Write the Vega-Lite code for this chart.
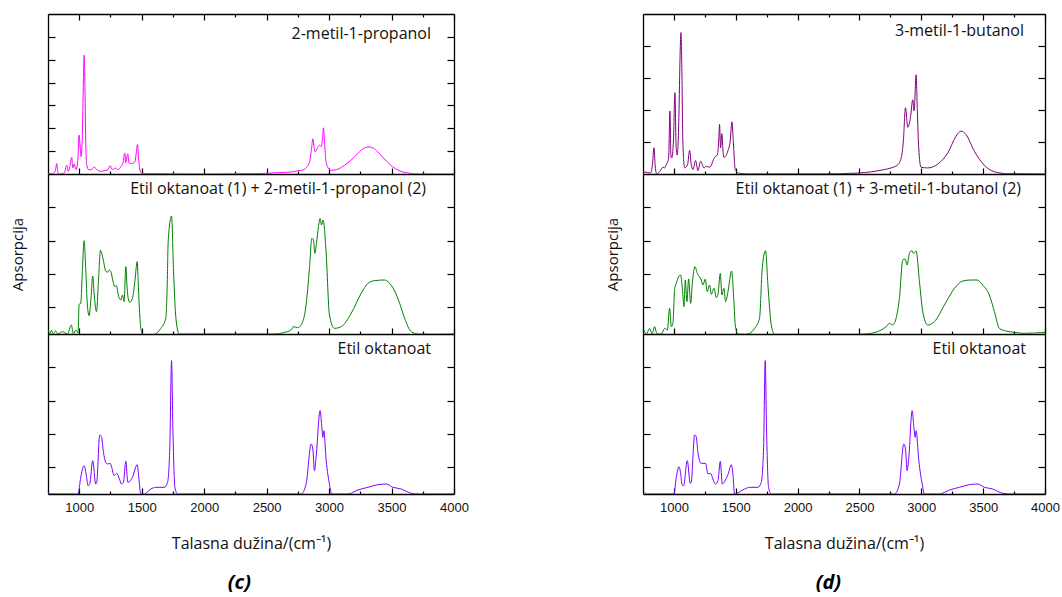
{
  "$schema": "https://vega.github.io/schema/vega-lite/v6.json",
  "padding": {"left": 10, "top": 13, "right": 5, "bottom": 5},
  "background": "white",
  "config": {
    "view": {"stroke": null},
    "font": "Open Sans",
    "axis": {"grid": false, "domainColor": "#000", "domainWidth": 1.3, "tickColor": "#000", "tickWidth": 1.2, "labelFont": "Liberation Sans", "labelFontSize": 13, "labelColor": "#111", "titleFont": "Open Sans", "titleFontSize": 15, "titleFontWeight": "normal", "titleColor": "#111"},
    "title": {"font": "Open Sans", "fontSize": 16, "fontWeight": "normal", "color": "#111"}
  },
  "datasets": {
    "tl": [
      {"wn":750,"a":0.003},{"wn":790,"a":0.003},{"wn":810,"a":0.038},{"wn":820,"a":0.091},{"wn":828,"a":0.023},{"wn":840,"a":0},{"wn":880,"a":0.009},{"wn":900,"a":0.076},{"wn":912,"a":0.023},{"wn":925,"a":0.067},{"wn":940,"a":0.146},{"wn":948,"a":0.053},{"wn":960,"a":0.088},{"wn":975,"a":0.038},{"wn":990,"a":0.14},{"wn":999,"a":0.34},{"wn":1008,"a":0.23},{"wn":1015,"a":0.152},{"wn":1025,"a":0.346},{"wn":1033,"a":0.785},{"wn":1039,"a":1.04},{"wn":1045,"a":0.815},{"wn":1052,"a":0.287},{"wn":1060,"a":0.082},{"wn":1075,"a":0.038},{"wn":1100,"a":0.038},{"wn":1119,"a":0.062},{"wn":1140,"a":0.038},{"wn":1172,"a":0.023},{"wn":1200,"a":0.029},{"wn":1230,"a":0.038},{"wn":1247,"a":0.073},{"wn":1266,"a":0.038},{"wn":1293,"a":0.053},{"wn":1310,"a":0.038},{"wn":1335,"a":0.067},{"wn":1350,"a":0.097},{"wn":1365,"a":0.182},{"wn":1372,"a":0.097},{"wn":1380,"a":0.14},{"wn":1389,"a":0.176},{"wn":1398,"a":0.097},{"wn":1420,"a":0.091},{"wn":1445,"a":0.105},{"wn":1460,"a":0.214},{"wn":1466,"a":0.258},{"wn":1475,"a":0.14},{"wn":1485,"a":0.038},{"wn":1500,"a":0.009},{"wn":1550,"a":0.003},{"wn":2000,"a":0},{"wn":2400,"a":0.003},{"wn":2600,"a":0.012},{"wn":2700,"a":0.018},{"wn":2750,"a":0.029},{"wn":2790,"a":0.035},{"wn":2820,"a":0.059},{"wn":2845,"a":0.111},{"wn":2860,"a":0.229},{"wn":2870,"a":0.308},{"wn":2880,"a":0.229},{"wn":2889,"a":0.193},{"wn":2905,"a":0.223},{"wn":2923,"a":0.252},{"wn":2937,"a":0.24},{"wn":2948,"a":0.316},{"wn":2955,"a":0.404},{"wn":2963,"a":0.287},{"wn":2975,"a":0.111},{"wn":2990,"a":0.059},{"wn":3017,"a":0.032},{"wn":3060,"a":0.038},{"wn":3100,"a":0.059},{"wn":3150,"a":0.097},{"wn":3200,"a":0.146},{"wn":3257,"a":0.208},{"wn":3300,"a":0.234},{"wn":3324,"a":0.237},{"wn":3350,"a":0.229},{"wn":3391,"a":0.193},{"wn":3430,"a":0.146},{"wn":3471,"a":0.1},{"wn":3510,"a":0.062},{"wn":3551,"a":0.035},{"wn":3600,"a":0.015},{"wn":3650,"a":0.006},{"wn":3738,"a":0},{"wn":4000,"a":0}
    ],
    "tr": [
      {"wn":750,"a":0.006},{"wn":763,"a":0.006},{"wn":810,"a":0.003},{"wn":825,"a":0.024},{"wn":839,"a":0.082},{"wn":848,"a":0.029},{"wn":860,"a":0},{"wn":885,"a":0.008},{"wn":912,"a":0.021},{"wn":925,"a":0.019},{"wn":938,"a":0.029},{"wn":957,"a":0.05},{"wn":968,"a":0.197},{"wn":975,"a":0.061},{"wn":982,"a":0.05},{"wn":996,"a":0.103},{"wn":1008,"a":0.254},{"wn":1018,"a":0.082},{"wn":1027,"a":0.059},{"wn":1040,"a":0.176},{"wn":1050,"a":0.374},{"wn":1057,"a":0.442},{"wn":1064,"a":0.333},{"wn":1072,"a":0.103},{"wn":1087,"a":0.019},{"wn":1110,"a":0.029},{"wn":1127,"a":0.074},{"wn":1140,"a":0.029},{"wn":1154,"a":0.014},{"wn":1175,"a":0.042},{"wn":1194,"a":0.01},{"wn":1216,"a":0.04},{"wn":1243,"a":0.019},{"wn":1262,"a":0.024},{"wn":1289,"a":0.021},{"wn":1329,"a":0.052},{"wn":1350,"a":0.059},{"wn":1362,"a":0.103},{"wn":1369,"a":0.155},{"wn":1377,"a":0.082},{"wn":1388,"a":0.126},{"wn":1396,"a":0.076},{"wn":1404,"a":0.052},{"wn":1437,"a":0.073},{"wn":1455,"a":0.103},{"wn":1469,"a":0.163},{"wn":1480,"a":0.103},{"wn":1496,"a":0.014},{"wn":1531,"a":0.002},{"wn":1600,"a":0},{"wn":2200,"a":0},{"wn":2487,"a":0.003},{"wn":2702,"a":0.014},{"wn":2756,"a":0.019},{"wn":2810,"a":0.029},{"wn":2837,"a":0.05},{"wn":2855,"a":0.103},{"wn":2872,"a":0.207},{"wn":2891,"a":0.146},{"wn":2912,"a":0.176},{"wn":2931,"a":0.232},{"wn":2942,"a":0.197},{"wn":2958,"a":0.31},{"wn":2968,"a":0.197},{"wn":2979,"a":0.082},{"wn":2998,"a":0.021},{"wn":3052,"a":0.019},{"wn":3133,"a":0.031},{"wn":3214,"a":0.066},{"wn":3281,"a":0.118},{"wn":3321,"a":0.134},{"wn":3362,"a":0.123},{"wn":3429,"a":0.071},{"wn":3510,"a":0.027},{"wn":3591,"a":0.007},{"wn":3699,"a":0.001},{"wn":4000,"a":0}
    ],
    "ml": [
      {"wn":750,"a":0.032},{"wn":766,"a":0.022},{"wn":777,"a":0.031},{"wn":793,"a":0.02},{"wn":811,"a":0.029},{"wn":830,"a":0.02},{"wn":865,"a":0.027},{"wn":905,"a":0.02},{"wn":937,"a":0.047},{"wn":953,"a":0.02},{"wn":972,"a":0.032},{"wn":991,"a":0.023},{"wn":999,"a":0.109},{"wn":1012,"a":0.112},{"wn":1025,"a":0.207},{"wn":1039,"a":0.3},{"wn":1052,"a":0.217},{"wn":1065,"a":0.107},{"wn":1079,"a":0.075},{"wn":1094,"a":0.127},{"wn":1108,"a":0.194},{"wn":1120,"a":0.137},{"wn":1138,"a":0.087},{"wn":1155,"a":0.187},{"wn":1170,"a":0.271},{"wn":1191,"a":0.245},{"wn":1212,"a":0.209},{"wn":1226,"a":0.205},{"wn":1240,"a":0.212},{"wn":1253,"a":0.207},{"wn":1271,"a":0.177},{"wn":1285,"a":0.162},{"wn":1298,"a":0.165},{"wn":1311,"a":0.139},{"wn":1333,"a":0.122},{"wn":1346,"a":0.137},{"wn":1359,"a":0.117},{"wn":1373,"a":0.222},{"wn":1382,"a":0.167},{"wn":1392,"a":0.127},{"wn":1405,"a":0.115},{"wn":1426,"a":0.127},{"wn":1445,"a":0.177},{"wn":1464,"a":0.237},{"wn":1472,"a":0.177},{"wn":1480,"a":0.107},{"wn":1493,"a":0.037},{"wn":1506,"a":0.019},{"wn":1520,"a":0.017},{"wn":1600,"a":0.019},{"wn":1653,"a":0.037},{"wn":1693,"a":0.067},{"wn":1705,"a":0.177},{"wn":1712,"a":0.297},{"wn":1739,"a":0.374},{"wn":1755,"a":0.207},{"wn":1774,"a":0.067},{"wn":1800,"a":0.02},{"wn":2562,"a":0.02},{"wn":2643,"a":0.025},{"wn":2696,"a":0.032},{"wn":2717,"a":0.042},{"wn":2749,"a":0.039},{"wn":2789,"a":0.057},{"wn":2816,"a":0.107},{"wn":2843,"a":0.217},{"wn":2862,"a":0.307},{"wn":2875,"a":0.302},{"wn":2886,"a":0.262},{"wn":2899,"a":0.292},{"wn":2915,"a":0.342},{"wn":2928,"a":0.367},{"wn":2939,"a":0.347},{"wn":2952,"a":0.362},{"wn":2976,"a":0.267},{"wn":3003,"a":0.077},{"wn":3043,"a":0.037},{"wn":3097,"a":0.042},{"wn":3177,"a":0.082},{"wn":3257,"a":0.142},{"wn":3311,"a":0.172},{"wn":3364,"a":0.18},{"wn":3444,"a":0.182},{"wn":3471,"a":0.177},{"wn":3525,"a":0.149},{"wn":3565,"a":0.112},{"wn":3605,"a":0.067},{"wn":3658,"a":0.027},{"wn":3712,"a":0.02},{"wn":3845,"a":0.019},{"wn":4000,"a":0.02}
    ],
    "mr": [
      {"wn":758,"a":0.032},{"wn":777,"a":0.02},{"wn":804,"a":0.037},{"wn":823,"a":0.02},{"wn":844,"a":0.042},{"wn":863,"a":0.02},{"wn":898,"a":0.02},{"wn":925,"a":0.037},{"wn":947,"a":0.032},{"wn":965,"a":0.097},{"wn":979,"a":0.042},{"wn":992,"a":0.052},{"wn":1006,"a":0.157},{"wn":1019,"a":0.172},{"wn":1038,"a":0.192},{"wn":1054,"a":0.197},{"wn":1068,"a":0.157},{"wn":1081,"a":0.102},{"wn":1092,"a":0.182},{"wn":1105,"a":0.117},{"wn":1119,"a":0.185},{"wn":1135,"a":0.112},{"wn":1150,"a":0.177},{"wn":1170,"a":0.222},{"wn":1189,"a":0.202},{"wn":1221,"a":0.182},{"wn":1235,"a":0.167},{"wn":1253,"a":0.185},{"wn":1270,"a":0.147},{"wn":1289,"a":0.167},{"wn":1302,"a":0.139},{"wn":1324,"a":0.157},{"wn":1342,"a":0.129},{"wn":1356,"a":0.139},{"wn":1375,"a":0.202},{"wn":1388,"a":0.137},{"wn":1404,"a":0.157},{"wn":1418,"a":0.117},{"wn":1437,"a":0.147},{"wn":1466,"a":0.209},{"wn":1485,"a":0.117},{"wn":1496,"a":0.047},{"wn":1517,"a":0.02},{"wn":1571,"a":0.019},{"wn":1612,"a":0.022},{"wn":1652,"a":0.037},{"wn":1692,"a":0.067},{"wn":1714,"a":0.217},{"wn":1741,"a":0.27},{"wn":1760,"a":0.167},{"wn":1787,"a":0.047},{"wn":1814,"a":0.019},{"wn":2500,"a":0.019},{"wn":2594,"a":0.022},{"wn":2675,"a":0.032},{"wn":2716,"a":0.042},{"wn":2742,"a":0.052},{"wn":2769,"a":0.047},{"wn":2796,"a":0.067},{"wn":2823,"a":0.127},{"wn":2850,"a":0.242},{"wn":2869,"a":0.245},{"wn":2885,"a":0.227},{"wn":2904,"a":0.262},{"wn":2923,"a":0.27},{"wn":2936,"a":0.262},{"wn":2958,"a":0.269},{"wn":2985,"a":0.177},{"wn":3012,"a":0.087},{"wn":3052,"a":0.047},{"wn":3106,"a":0.057},{"wn":3187,"a":0.107},{"wn":3268,"a":0.157},{"wn":3335,"a":0.179},{"wn":3402,"a":0.182},{"wn":3451,"a":0.182},{"wn":3496,"a":0.167},{"wn":3550,"a":0.137},{"wn":3591,"a":0.087},{"wn":3631,"a":0.037},{"wn":3684,"a":0.029},{"wn":3752,"a":0.025},{"wn":3833,"a":0.022},{"wn":4000,"a":0.025}
    ],
    "bl": [
      {"wn":750,"a":0.025},{"wn":771,"a":0.02},{"wn":991,"a":0.02},{"wn":1012,"a":0.07},{"wn":1039,"a":0.105},{"wn":1055,"a":0.08},{"wn":1071,"a":0.045},{"wn":1084,"a":0.05},{"wn":1108,"a":0.12},{"wn":1132,"a":0.05},{"wn":1140,"a":0.055},{"wn":1164,"a":0.197},{"wn":1178,"a":0.192},{"wn":1194,"a":0.145},{"wn":1212,"a":0.115},{"wn":1226,"a":0.11},{"wn":1247,"a":0.112},{"wn":1260,"a":0.1},{"wn":1279,"a":0.075},{"wn":1300,"a":0.082},{"wn":1322,"a":0.065},{"wn":1338,"a":0.05},{"wn":1354,"a":0.055},{"wn":1373,"a":0.118},{"wn":1389,"a":0.055},{"wn":1405,"a":0.058},{"wn":1426,"a":0.07},{"wn":1464,"a":0.108},{"wn":1474,"a":0.08},{"wn":1493,"a":0.02},{"wn":1520,"a":0.02},{"wn":1573,"a":0.035},{"wn":1613,"a":0.04},{"wn":1680,"a":0.04},{"wn":1707,"a":0.055},{"wn":1725,"a":0.16},{"wn":1739,"a":0.42},{"wn":1750,"a":0.21},{"wn":1766,"a":0.04},{"wn":1787,"a":0.02},{"wn":2776,"a":0.02},{"wn":2816,"a":0.05},{"wn":2857,"a":0.17},{"wn":2870,"a":0.155},{"wn":2883,"a":0.09},{"wn":2896,"a":0.13},{"wn":2928,"a":0.27},{"wn":2941,"a":0.225},{"wn":2950,"a":0.19},{"wn":2958,"a":0.21},{"wn":2977,"a":0.12},{"wn":3003,"a":0.05},{"wn":3022,"a":0.02},{"wn":3150,"a":0.02},{"wn":3230,"a":0.032},{"wn":3311,"a":0.04},{"wn":3391,"a":0.048},{"wn":3458,"a":0.05},{"wn":3511,"a":0.04},{"wn":3578,"a":0.035},{"wn":3618,"a":0.028},{"wn":3658,"a":0.022},{"wn":3712,"a":0.02},{"wn":4000,"a":0.02}
    ],
    "br": [
      {"wn":763,"a":0.025},{"wn":785,"a":0.02},{"wn":1000,"a":0.02},{"wn":1019,"a":0.07},{"wn":1041,"a":0.102},{"wn":1055,"a":0.08},{"wn":1065,"a":0.048},{"wn":1078,"a":0.045},{"wn":1108,"a":0.12},{"wn":1132,"a":0.052},{"wn":1140,"a":0.055},{"wn":1167,"a":0.197},{"wn":1180,"a":0.192},{"wn":1194,"a":0.145},{"wn":1221,"a":0.112},{"wn":1256,"a":0.112},{"wn":1275,"a":0.08},{"wn":1297,"a":0.082},{"wn":1315,"a":0.065},{"wn":1334,"a":0.05},{"wn":1356,"a":0.06},{"wn":1375,"a":0.118},{"wn":1391,"a":0.05},{"wn":1410,"a":0.058},{"wn":1437,"a":0.078},{"wn":1464,"a":0.108},{"wn":1477,"a":0.08},{"wn":1490,"a":0.02},{"wn":1571,"a":0.035},{"wn":1612,"a":0.04},{"wn":1679,"a":0.04},{"wn":1706,"a":0.055},{"wn":1725,"a":0.16},{"wn":1738,"a":0.42},{"wn":1749,"a":0.21},{"wn":1765,"a":0.04},{"wn":1787,"a":0.02},{"wn":2783,"a":0.02},{"wn":2823,"a":0.05},{"wn":2858,"a":0.17},{"wn":2872,"a":0.155},{"wn":2885,"a":0.09},{"wn":2899,"a":0.13},{"wn":2926,"a":0.27},{"wn":2939,"a":0.225},{"wn":2950,"a":0.19},{"wn":2958,"a":0.21},{"wn":2980,"a":0.12},{"wn":3007,"a":0.05},{"wn":3025,"a":0.02},{"wn":3146,"a":0.02},{"wn":3227,"a":0.032},{"wn":3308,"a":0.04},{"wn":3389,"a":0.048},{"wn":3456,"a":0.05},{"wn":3510,"a":0.04},{"wn":3577,"a":0.035},{"wn":3618,"a":0.028},{"wn":3658,"a":0.022},{"wn":3725,"a":0.02},{"wn":4000,"a":0.02}
    ]
  },
  "hconcat": [
    {
      "title": {"text": "(c)", "orient": "bottom", "anchor": "middle", "frame": "bounds", "dx": 0, "fontSize": 20, "fontStyle": "italic", "fontWeight": "bold", "color": "#000", "offset": 22},
      "bounds": "flush",
      "spacing": 0,
      "vconcat": [
        {
          "width": 406, "height": 160,
          "data": {"name": "tl"},
          "title": {"text": "2-metil-1-propanol", "anchor": "end", "frame": "group", "baseline": "middle", "offset": -20, "dy": 17, "dx": -23},
          "layer": [
            {"mark": {"type": "line", "color": "#ff00ff", "strokeWidth": 1, "clip": true, "interpolate": "monotone"},
             "encoding": {
               "x": {"field": "wn", "type": "quantitative", "scale": {"domain": [750, 4000], "nice": false, "zero": false}, "axis": {"orient": "bottom", "values": [1000,1250,1500,1750,2000,2250,2500,2750,3000,3250,3500,3750,4000], "labels": false, "title": null, "tickSize": {"condition": {"test": "datum.value % 500 === 0", "value": -6}, "value": -3}}},
               "y": {"field": "a", "type": "quantitative", "scale": {"domain": [0, 1.4], "nice": false}, "axis": {"orient": "left", "values": [0.2,0.4,0.6,0.8,1.0,1.2], "labels": false, "title": null, "tickSize": -7}}
             }},
            {"mark": {"type": "line", "opacity": 0},
             "encoding": {
               "x": {"field": "wn", "type": "quantitative", "axis": {"orient": "top", "values": [1000,1250,1500,1750,2000,2250,2500,2750,3000,3250,3500,3750,4000], "labels": false, "title": null, "tickSize": {"condition": {"test": "datum.value % 500 === 0", "value": -6}, "value": -3}}},
               "y": {"field": "a", "type": "quantitative", "axis": {"orient": "right", "values": [0.2,0.4,0.6,0.8,1.0,1.2], "labels": false, "title": null, "tickSize": -7}}
             }}
          ],
          "resolve": {"axis": {"x": "independent", "y": "independent"}}
        },
        {
          "width": 406, "height": 160,
          "data": {"name": "ml"},
          "title": {"text": "Etil oktanoat (1) + 2-metil-1-propanol (2)", "anchor": "end", "frame": "group", "baseline": "middle", "offset": -16, "dy": 15, "dx": -28},
          "layer": [
            {"mark": {"type": "line", "color": "#008000", "strokeWidth": 1, "clip": true, "interpolate": "monotone"},
             "encoding": {
               "x": {"field": "wn", "type": "quantitative", "scale": {"domain": [750, 4000], "nice": false, "zero": false}, "axis": {"orient": "bottom", "values": [1000,1250,1500,1750,2000,2250,2500,2750,3000,3250,3500,3750,4000], "labels": false, "title": null, "tickSize": {"condition": {"test": "datum.value % 500 === 0", "value": -6}, "value": -3}}},
               "y": {"field": "a", "type": "quantitative", "scale": {"domain": [0.02, 0.5], "nice": false, "zero": false}, "axis": {"orient": "left", "values": [0.1,0.2,0.3,0.4], "labels": false, "title": "Apsorpcija", "titlePadding": 22, "tickSize": -7}}
             }},
            {"mark": {"type": "line", "opacity": 0},
             "encoding": {
               "x": {"field": "wn", "type": "quantitative", "axis": null},
               "y": {"field": "a", "type": "quantitative", "axis": {"orient": "right", "values": [0.1,0.2,0.3,0.4], "labels": false, "title": null, "tickSize": -7}}
             }}
          ],
          "resolve": {"axis": {"x": "independent", "y": "independent"}}
        },
        {
          "width": 406, "height": 160,
          "data": {"name": "bl"},
          "title": {"text": "Etil oktanoat", "anchor": "end", "frame": "group", "baseline": "middle", "offset": -16, "dy": 15, "dx": -23},
          "layer": [
            {"mark": {"type": "line", "color": "#8000ff", "strokeWidth": 1, "clip": true, "interpolate": "monotone"},
             "encoding": {
               "x": {"field": "wn", "type": "quantitative", "scale": {"domain": [750, 4000], "nice": false, "zero": false}, "axis": {"orient": "bottom", "values": [1000,1250,1500,1750,2000,2250,2500,2750,3000,3250,3500,3750,4000], "labelExpr": "datum.value % 500 === 0 ? datum.label : ''", "labelOverlap": false, "labelFlush": false, "labelPadding": 13, "format": "d", "title": "Talasna dužina/(cm⁻¹)", "titleFontSize": 16, "titlePadding": 18, "tickSize": {"condition": {"test": "datum.value % 500 === 0", "value": -6}, "value": -3}}},
               "y": {"field": "a", "type": "quantitative", "scale": {"domain": [0.02, 0.5], "nice": false, "zero": false}, "axis": {"orient": "left", "values": [0.1,0.2,0.3,0.4], "labels": false, "title": null, "tickSize": -7}}
             }},
            {"mark": {"type": "line", "opacity": 0},
             "encoding": {
               "x": {"field": "wn", "type": "quantitative", "axis": null},
               "y": {"field": "a", "type": "quantitative", "axis": {"orient": "right", "values": [0.1,0.2,0.3,0.4], "labels": false, "title": null, "tickSize": -7}}
             }}
          ],
          "resolve": {"axis": {"x": "independent", "y": "independent"}}
        }
      ]
    },
    {
      "title": {"text": "(d)", "orient": "bottom", "anchor": "middle", "frame": "bounds", "dx": -4, "fontSize": 20, "fontStyle": "italic", "fontWeight": "bold", "color": "#000", "offset": 22},
      "bounds": "flush",
      "spacing": 0,
      "vconcat": [
        {
          "width": 402, "height": 160,
          "data": {"name": "tr"},
          "title": {"text": "3-metil-1-butanol", "anchor": "end", "frame": "group", "baseline": "middle", "offset": -18, "dy": 16, "dx": -21},
          "layer": [
            {"mark": {"type": "line", "color": "#800080", "strokeWidth": 1, "clip": true, "interpolate": "monotone"},
             "encoding": {
               "x": {"field": "wn", "type": "quantitative", "scale": {"domain": [750, 4000], "nice": false, "zero": false}, "axis": {"orient": "bottom", "values": [1000,1250,1500,1750,2000,2250,2500,2750,3000,3250,3500,3750,4000], "labels": false, "title": null, "tickSize": {"condition": {"test": "datum.value % 500 === 0", "value": -6}, "value": -3}}},
               "y": {"field": "a", "type": "quantitative", "scale": {"domain": [0, 0.5], "nice": false}, "axis": {"orient": "left", "values": [0.1,0.2,0.3,0.4], "labels": false, "title": null, "tickSize": -7}}
             }},
            {"mark": {"type": "line", "opacity": 0},
             "encoding": {
               "x": {"field": "wn", "type": "quantitative", "axis": {"orient": "top", "values": [1000,1250,1500,1750,2000,2250,2500,2750,3000,3250,3500,3750,4000], "labels": false, "title": null, "tickSize": {"condition": {"test": "datum.value % 500 === 0", "value": -6}, "value": -3}}},
               "y": {"field": "a", "type": "quantitative", "axis": {"orient": "right", "values": [0.1,0.2,0.3,0.4], "labels": false, "title": null, "tickSize": -7}}
             }}
          ],
          "resolve": {"axis": {"x": "independent", "y": "independent"}}
        },
        {
          "width": 402, "height": 160,
          "data": {"name": "mr"},
          "title": {"text": "Etil oktanoat (1) + 3-metil-1-butanol (2)", "anchor": "end", "frame": "group", "baseline": "middle", "offset": -16, "dy": 15, "dx": -24},
          "layer": [
            {"mark": {"type": "line", "color": "#008000", "strokeWidth": 1, "clip": true, "interpolate": "monotone"},
             "encoding": {
               "x": {"field": "wn", "type": "quantitative", "scale": {"domain": [750, 4000], "nice": false, "zero": false}, "axis": {"orient": "bottom", "values": [1000,1250,1500,1750,2000,2250,2500,2750,3000,3250,3500,3750,4000], "labels": false, "title": null, "tickSize": {"condition": {"test": "datum.value % 500 === 0", "value": -6}, "value": -3}}},
               "y": {"field": "a", "type": "quantitative", "scale": {"domain": [0.02, 0.5], "nice": false, "zero": false}, "axis": {"orient": "left", "values": [0.1,0.2,0.3,0.4], "labels": false, "title": "Apsorpcija", "titlePadding": 22, "tickSize": -7}}
             }},
            {"mark": {"type": "line", "opacity": 0},
             "encoding": {
               "x": {"field": "wn", "type": "quantitative", "axis": null},
               "y": {"field": "a", "type": "quantitative", "axis": {"orient": "right", "values": [0.1,0.2,0.3,0.4], "labels": false, "title": null, "tickSize": -7}}
             }}
          ],
          "resolve": {"axis": {"x": "independent", "y": "independent"}}
        },
        {
          "width": 402, "height": 160,
          "data": {"name": "br"},
          "title": {"text": "Etil oktanoat", "anchor": "end", "frame": "group", "baseline": "middle", "offset": -16, "dy": 15, "dx": -19},
          "layer": [
            {"mark": {"type": "line", "color": "#8000ff", "strokeWidth": 1, "clip": true, "interpolate": "monotone"},
             "encoding": {
               "x": {"field": "wn", "type": "quantitative", "scale": {"domain": [750, 4000], "nice": false, "zero": false}, "axis": {"orient": "bottom", "values": [1000,1250,1500,1750,2000,2250,2500,2750,3000,3250,3500,3750,4000], "labelExpr": "datum.value % 500 === 0 ? datum.label : ''", "labelOverlap": false, "labelFlush": false, "labelPadding": 13, "format": "d", "title": "Talasna dužina/(cm⁻¹)", "titleFontSize": 16, "titlePadding": 18, "tickSize": {"condition": {"test": "datum.value % 500 === 0", "value": -6}, "value": -3}}},
               "y": {"field": "a", "type": "quantitative", "scale": {"domain": [0.02, 0.5], "nice": false, "zero": false}, "axis": {"orient": "left", "values": [0.1,0.2,0.3,0.4], "labels": false, "title": null, "tickSize": -7}}
             }},
            {"mark": {"type": "line", "opacity": 0},
             "encoding": {
               "x": {"field": "wn", "type": "quantitative", "axis": null},
               "y": {"field": "a", "type": "quantitative", "axis": {"orient": "right", "values": [0.1,0.2,0.3,0.4], "labels": false, "title": null, "tickSize": -7}}
             }}
          ],
          "resolve": {"axis": {"x": "independent", "y": "independent"}}
        }
      ]
    }
  ],
  "spacing": 136
}
